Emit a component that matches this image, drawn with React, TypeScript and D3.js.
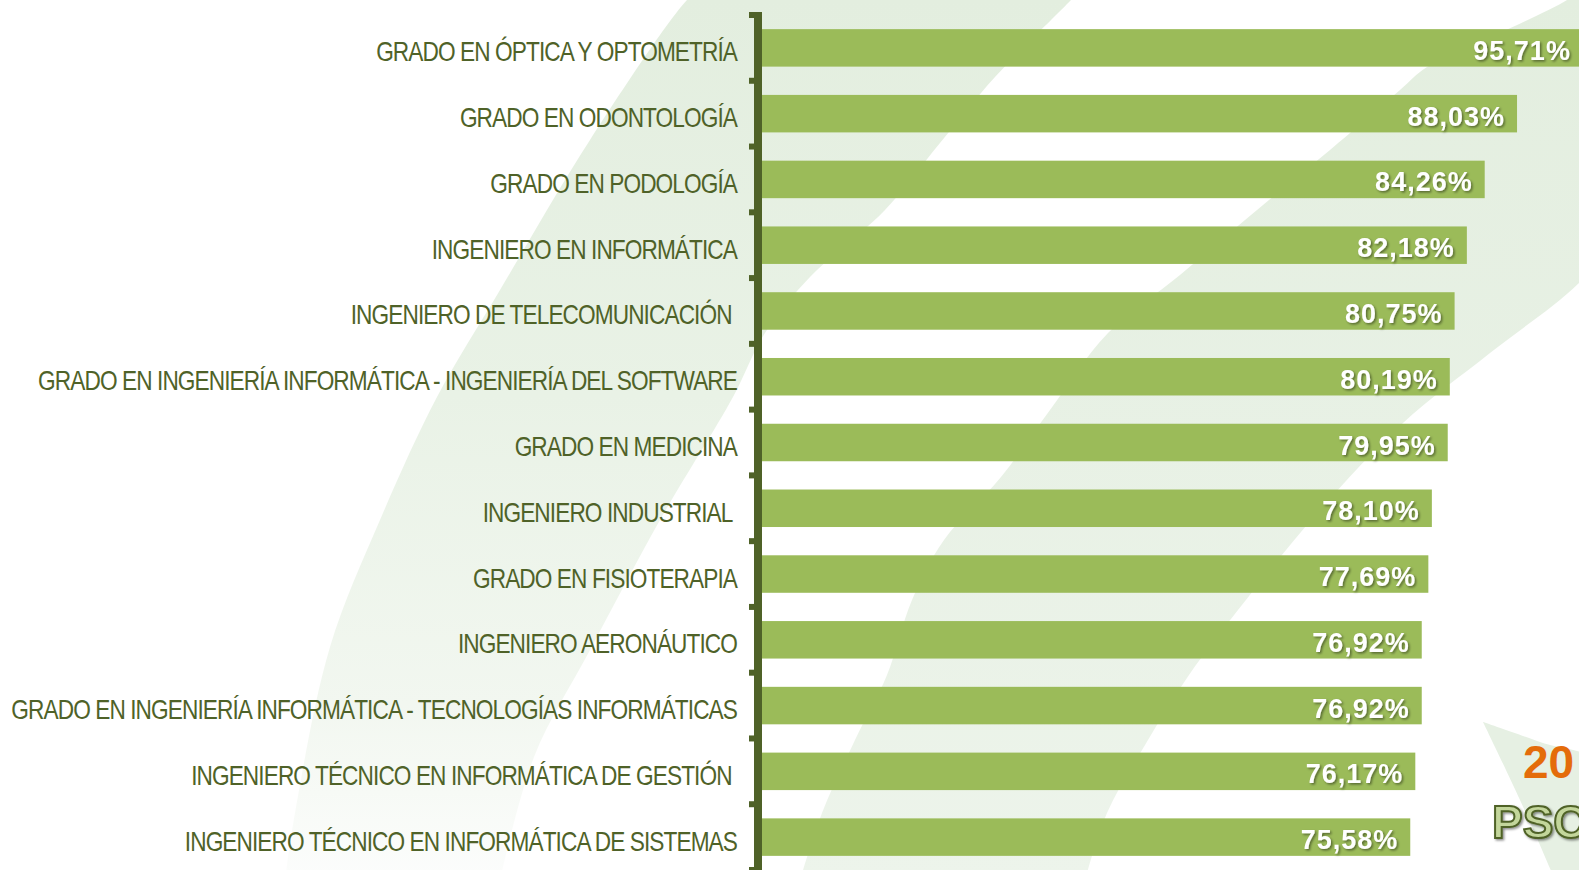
import React, { useEffect, useRef } from "react";
import { select, scaleBand, scaleLinear, line, curveCatmullRom, format } from "d3";

const categories = [
    "GRADO EN ÓPTICA Y OPTOMETRÍA",
    "GRADO EN ODONTOLOGÍA",
    "GRADO EN PODOLOGÍA",
    "INGENIERO EN INFORMÁTICA",
    "INGENIERO DE TELECOMUNICACIÓN ",
    "GRADO EN INGENIERÍA INFORMÁTICA - INGENIERÍA DEL SOFTWARE",
    "GRADO EN MEDICINA",
    "INGENIERO INDUSTRIAL ",
    "GRADO EN FISIOTERAPIA",
    "INGENIERO AERONÁUTICO",
    "GRADO EN INGENIERÍA INFORMÁTICA - TECNOLOGÍAS INFORMÁTICAS",
    "INGENIERO TÉCNICO EN INFORMÁTICA DE GESTIÓN ",
    "INGENIERO TÉCNICO EN INFORMÁTICA DE SISTEMAS",
];

const values = [95.71, 88.03, 84.26, 82.18, 80.75, 80.19, 79.95, 78.1, 77.69, 76.92, 76.92, 76.17, 75.58];

const yearText = "20";
const logoText = "PSC";

// decorative background ribbons (not data)
const ribbonB = {
    left: [[700, -10], [687, 0], [590, 140], [500, 290], [437, 397], [380, 520], [330, 647], [295, 813], [285, 880]],
    right: [[1080, -10], [1071, 0], [995, 77], [940, 143], [885, 210], [810, 277], [765, 333], [733, 397], [660, 520], [590, 650], [534, 757], [500, 880]],
};
const ribbonC = {
    left: [[1580, -10], [1567, 0], [1500, 33], [1427, 67], [1400, 90], [1330, 150], [1257, 210], [1180, 275], [1108, 333], [1050, 410], [1001, 477], [944, 540], [912, 600], [887, 675], [855, 740], [822, 813], [800, 880]],
    right: [[1650, -10], [1650, 200], [1579, 283], [1490, 353], [1403, 423], [1320, 510], [1238, 610], [1189, 675], [1148, 740], [1107, 813], [1085, 880]],
};
const ribbonD = {
    left: [[1483, 722], [1520, 800], [1555, 880]],
    right: [[1483, 722], [1540, 742], [1600, 765], [1600, 880]],
};

const WIDTH = 1579;
const HEIGHT = 870;

function ribbonPath(r) {
    const gen = line().curve(curveCatmullRom);
    const a = gen(r.left);
    const b = gen([...r.right].reverse()).replace(/^M/, "L");
    return a + b + "Z";
}

function BarChart() {
    const svgRef = useRef(null);

    useEffect(() => {
        document.body.style.margin = "0";
        const svg = select(svgRef.current);
        svg.selectAll("*").remove();

        const defs = svg.append("defs");
        const gradB = defs.append("linearGradient").attr("id", "gradB")
            .attr("gradientUnits", "userSpaceOnUse")
            .attr("x1", 0).attr("y1", 0).attr("x2", 0).attr("y2", 880);
        gradB.append("stop").attr("offset", "0").attr("stop-color", "#e3eedf");
        gradB.append("stop").attr("offset", "0.45").attr("stop-color", "#e9f2e6");
        gradB.append("stop").attr("offset", "0.8").attr("stop-color", "#f2f7f0");
        gradB.append("stop").attr("offset", "1").attr("stop-color", "#fcfdfc");
        const gradC = defs.append("linearGradient").attr("id", "gradC")
            .attr("gradientUnits", "userSpaceOnUse")
            .attr("x1", 0).attr("y1", 0).attr("x2", 0).attr("y2", 880);
        gradC.append("stop").attr("offset", "0").attr("stop-color", "#e3eedf");
        gradC.append("stop").attr("offset", "1").attr("stop-color", "#edf4eb");
        const shadow = defs.append("filter").attr("id", "shadow")
            .attr("x", "-10%").attr("y", "-20%").attr("width", "130%").attr("height", "150%");
        shadow.append("feDropShadow").attr("dx", 1.5).attr("dy", 1.5).attr("stdDeviation", 1)
            .attr("flood-color", "#000").attr("flood-opacity", 0.45);

        svg.append("rect").attr("width", WIDTH).attr("height", HEIGHT).attr("fill", "#ffffff");
        svg.append("path").attr("d", ribbonPath(ribbonB)).attr("fill", "url(#gradB)");
        svg.append("path").attr("d", ribbonPath(ribbonC)).attr("fill", "url(#gradC)");
        svg.append("path").attr("d", ribbonPath(ribbonD)).attr("fill", "#e6f0e3");

        //scales
        const yScale = scaleBand().domain(categories).range([15, 870])
            .paddingInner(0.43).paddingOuter(0.215);
        const xScale = scaleLinear().domain([0, 100]).range([762, 762 + 857.7]);
        const step = yScale.step();
        const offset = yScale.bandwidth() / 2;

        //bars
        svg.append("g")
            .selectAll("rect")
            .data(values)
            .join("rect")
            .attr("x", xScale(0))
            .attr("y", (d, i) => yScale(categories[i]))
            .attr("width", d => xScale(d) - xScale(0))
            .attr("height", yScale.bandwidth())
            .attr("fill", "#9bbb59");

        //value labels
        const fmt = format(".2f");
        svg.append("g")
            .selectAll("text")
            .data(values)
            .join("text")
            .attr("x", d => xScale(d) - 12)
            .attr("y", (d, i) => yScale(categories[i]) + offset + 12)
            .attr("text-anchor", "end")
            .attr("fill", "#ffffff")
            .attr("font-family", "'Liberation Sans', Arial, sans-serif")
            .attr("font-weight", "bold")
            .attr("font-size", 27)
            .attr("letter-spacing", 1)
            .attr("filter", "url(#shadow)")
            .text(d => fmt(d).replace(".", ",") + "%");

        //axis
        const axisX = 758;
        const axisTop = yScale(categories[0]) - yScale.step() * yScale.paddingOuter();
        const boundaries = categories.map(c => yScale(c) - step * yScale.paddingInner() / 2);
        boundaries.push(870);
        const axis = svg.append("g").attr("class", "y-axis");
        axis.append("line")
            .attr("x1", axisX).attr("x2", axisX)
            .attr("y1", axisTop - 3).attr("y2", 870)
            .attr("stroke", "#4f6228").attr("stroke-width", 8);
        axis.selectAll(".tick")
            .data(boundaries)
            .join("line")
            .attr("class", "tick")
            .attr("x1", 749).attr("x2", axisX)
            .attr("y1", d => d).attr("y2", d => d)
            .attr("stroke", "#4f6228").attr("stroke-width", 6);

        //category labels (condensed)
        const sx = 0.84;
        svg.append("g")
            .attr("transform", `scale(${sx},1)`)
            .selectAll("text")
            .data(categories)
            .join("text")
            .attr("x", 737 / sx)
            .attr("y", d => yScale(d) + offset + 13.5)
            .attr("text-anchor", "end")
            .attr("fill", "#4f6228")
            .attr("font-family", "'Liberation Sans', Arial, sans-serif")
            .attr("font-size", 27)
            .attr("letter-spacing", -1.1)
            .style("white-space", "pre")
            .text(d => d);

        //corner logo
        svg.append("text")
            .attr("x", 1523).attr("y", 778)
            .attr("fill", "#e46c0a")
            .attr("font-family", "'Liberation Sans', Arial, sans-serif")
            .attr("font-weight", "bold")
            .attr("font-size", 46)
            .text(yearText);
        svg.append("text")
            .attr("x", 1492).attr("y", 838)
            .attr("fill", "#c3d69b")
            .attr("stroke", "#4f6228")
            .attr("stroke-width", 2)
            .attr("font-family", "'Liberation Sans', Arial, sans-serif")
            .attr("font-weight", "bold")
            .attr("font-size", 46)
            .attr("filter", "url(#shadow)")
            .text(logoText);
    }, []);

    return (
        <div style={{ position: "absolute", left: 0, top: 0 }}>
            <svg ref={svgRef} width={WIDTH} height={HEIGHT} style={{ display: "block" }} />
        </div>
    );
}

export default function App() {
    return <BarChart />;
}
